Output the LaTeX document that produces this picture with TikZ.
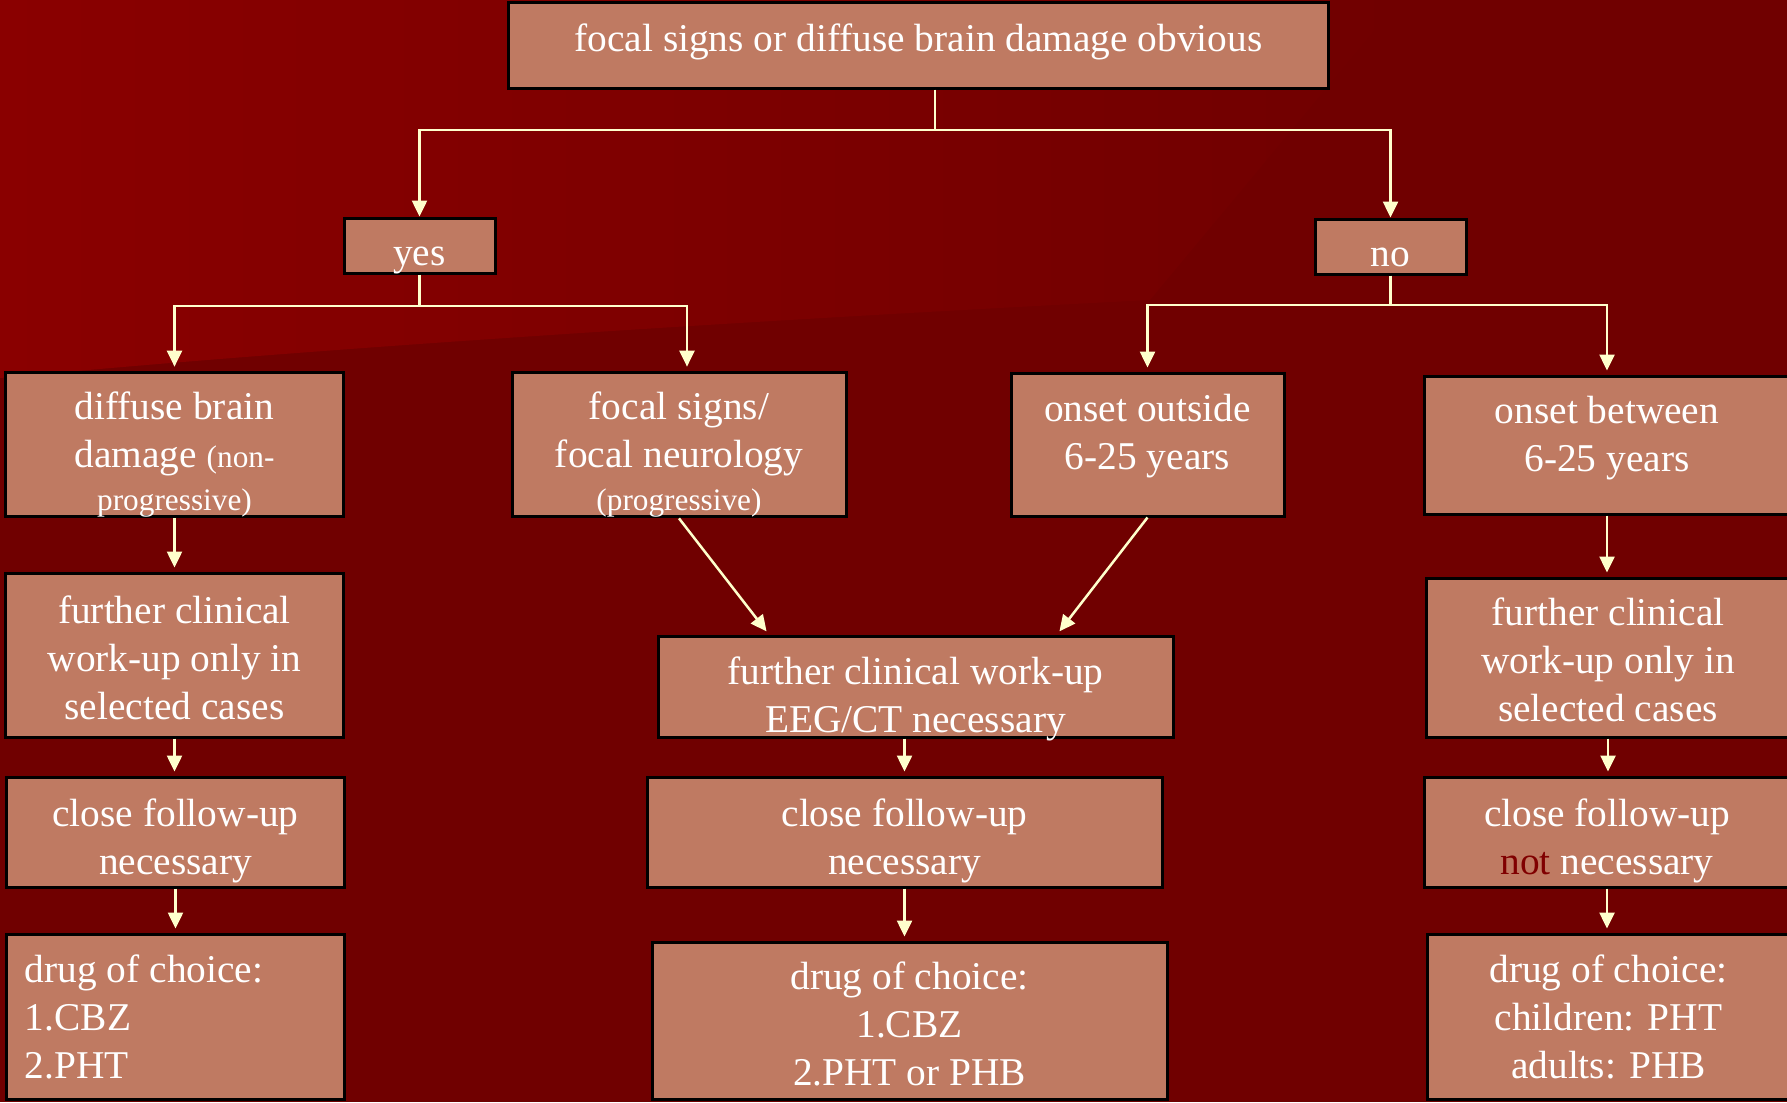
\documentclass[tikz,border=0pt]{standalone}
\usepackage{fontspec}
\setmainfont{Liberation Serif}
\usetikzlibrary{arrows.meta}
\definecolor{bgdark}{RGB}{112,0,0}
\definecolor{bglight}{RGB}{138,0,0}
\definecolor{boxfill}{RGB}{191,122,98}
\definecolor{arrowcol}{RGB}{255,255,204}
\definecolor{notred}{RGB}{128,0,0}
\newcommand{\sm}[1]{{\fontsize{17.8}{21}\selectfont #1}}
\newcommand{\hipad}[1]{\rule{0pt}{#1}}
\newcommand{\lopad}[1]{\rule[-#1]{0pt}{0pt}}
\begin{document}
\begin{tikzpicture}[x=0.2mm,y=-0.2mm,
		box/.style={draw=black,line width=0.6mm,fill=boxfill,text=white,inner sep=0pt,align=center,
			font=\fontsize{22.4}{27.3}\selectfont},
		link/.style={draw=arrowcol,line width=0.5mm},
		arr/.style={link,-{Triangle[length=3.2mm,width=3mm]},shorten >=0.8mm}]
	\useasboundingbox (0,0) rectangle (1787,1102);
	% background
	\fill[bgdark] (0,0) rectangle (1787,1102);
	\shade[left color=bglight,right color=bgdark] (0,0) -- (0,378) .. controls (350,345) and (800,318) .. (1150,300) -- (1400,0) -- cycle;
	% question
	\node[box,minimum width=163.8mm,minimum height=17.2mm,text height=5.4mm,text depth=3mm] (question) at (918.5,45) {focal signs or diffuse brain damage obvious};
	\node[box,minimum width=30.2mm,minimum height=11mm,text height=8mm,text depth=0pt] (yes) at (419.5,245.5) {yes};
	\node[box,minimum width=30.2mm,minimum height=11mm,text height=8mm,text depth=0pt] (no) at (1390.5,246.5) {no};
	% second row
	\node[box,minimum width=67.4mm,minimum height=28.6mm] (diffuse) at (174.5,444.5) {\hipad{9.4mm}diffuse brain\\damage \sm{(non-}\\[-1mm]\sm{progressive)}};
	\node[box,minimum width=66.8mm,minimum height=28.6mm] (focal) at (679,444.5) {\hipad{9.4mm}focal signs/\\focal neurology\\[-1mm]\sm{(progressive)}};
	\node[box,minimum width=54.6mm,minimum height=28.6mm] (outside) at (1147.5,444.5) {onset outside\\6-25 years\lopad{5.2mm}};
	\node[box,minimum width=73.2mm,minimum height=27.6mm] (between) at (1607,445) {onset between\\6-25 years\lopad{4.4mm}};
	% work-up
	\node[box,minimum width=67.4mm,minimum height=32.8mm] (furtherL) at (174.5,655) {\hipad{6.6mm}further clinical\\work-up only in\\selected cases};
	\node[box,minimum width=103mm,minimum height=20.2mm] (furtherM) at (915.5,686.5) {\hipad{8.8mm}further clinical work-up\\\smash{EEG/CT necessary}};
	\node[box,minimum width=72.8mm,minimum height=31.8mm] (furtherR) at (1608,657.5) {\hipad{6.6mm}further clinical\\work-up only in\\selected cases};
	% follow-up
	\node[box,minimum width=67.4mm,minimum height=22mm] (closeL) at (175.5,832) {\hipad{8.9mm}close follow-up\\necessary};
	\node[box,minimum width=103mm,minimum height=22mm] (closeM) at (904.5,832) {\hipad{8.9mm}close follow-up\\necessary};
	\node[box,minimum width=73.2mm,minimum height=22mm] (closeR) at (1607,832) {\hipad{8.9mm}close follow-up\\\textcolor{notred}{not} necessary};
	% drugs
	\node[box,minimum width=67.4mm,minimum height=33mm,text width=60.2mm,inner xsep=3.6mm,align=flush left] (drugL) at (175.5,1016.5) {\hipad{5.8mm}drug of choice:\\1.CBZ\\2.PHT};
	\node[box,minimum width=103mm,minimum height=31.4mm] (drugM) at (909.5,1020.5) {\hipad{7mm}drug of choice:\\1.CBZ\\2.PHT or PHB};
	\node[box,minimum width=72.6mm,minimum height=33mm] (drugR) at (1608.5,1016.5) {\hipad{5.8mm}drug of choice:\\children: PHT\\adults: PHB};
	% connectors
	\coordinate (splitQ) at (935,130);
	\draw[link] (question.south -| splitQ) -- (splitQ);
	\draw[arr,shorten >=0pt] (splitQ) -| (yes.north);
	\draw[arr,shorten >=0pt] (splitQ) -| (no.north);
	\coordinate (splitY) at (419.5,306);
	\draw[link] (yes.south) -- (splitY);
	\draw[arr] (splitY) -| (diffuse.north);
	\draw[arr] (splitY) -| ([xshift=1.6mm]focal.north);
	\coordinate (splitN) at (1390.5,305);
	\draw[link] (no.south) -- (splitN);
	\draw[arr] (splitN) -| (outside.north);
	\draw[arr] (splitN) -| (between.north);
	\draw[arr] (focal.south) -- ([xshift=-29.3mm]furtherM.north);
	\draw[arr] (outside.south) -- ([xshift=28.3mm]furtherM.north);
	\draw[arr] (diffuse.south) -- (diffuse.south |- furtherL.north);
	\draw[arr] (between.south) -- (between.south |- furtherR.north);
	\draw[arr] (furtherL.south) -- (furtherL.south |- closeL.north);
	\draw[arr] (closeM.north |- furtherM.south) -- (closeM.north);
	\draw[arr] (furtherR.south) -- (furtherR.south |- closeR.north);
	\draw[arr] (closeL.south) -- (closeL.south |- drugL.north);
	\draw[arr] (closeM.south) -- (closeM.south |- drugM.north);
	\draw[arr] (closeR.south) -- (closeR.south |- drugR.north);
\end{tikzpicture}
\end{document}
